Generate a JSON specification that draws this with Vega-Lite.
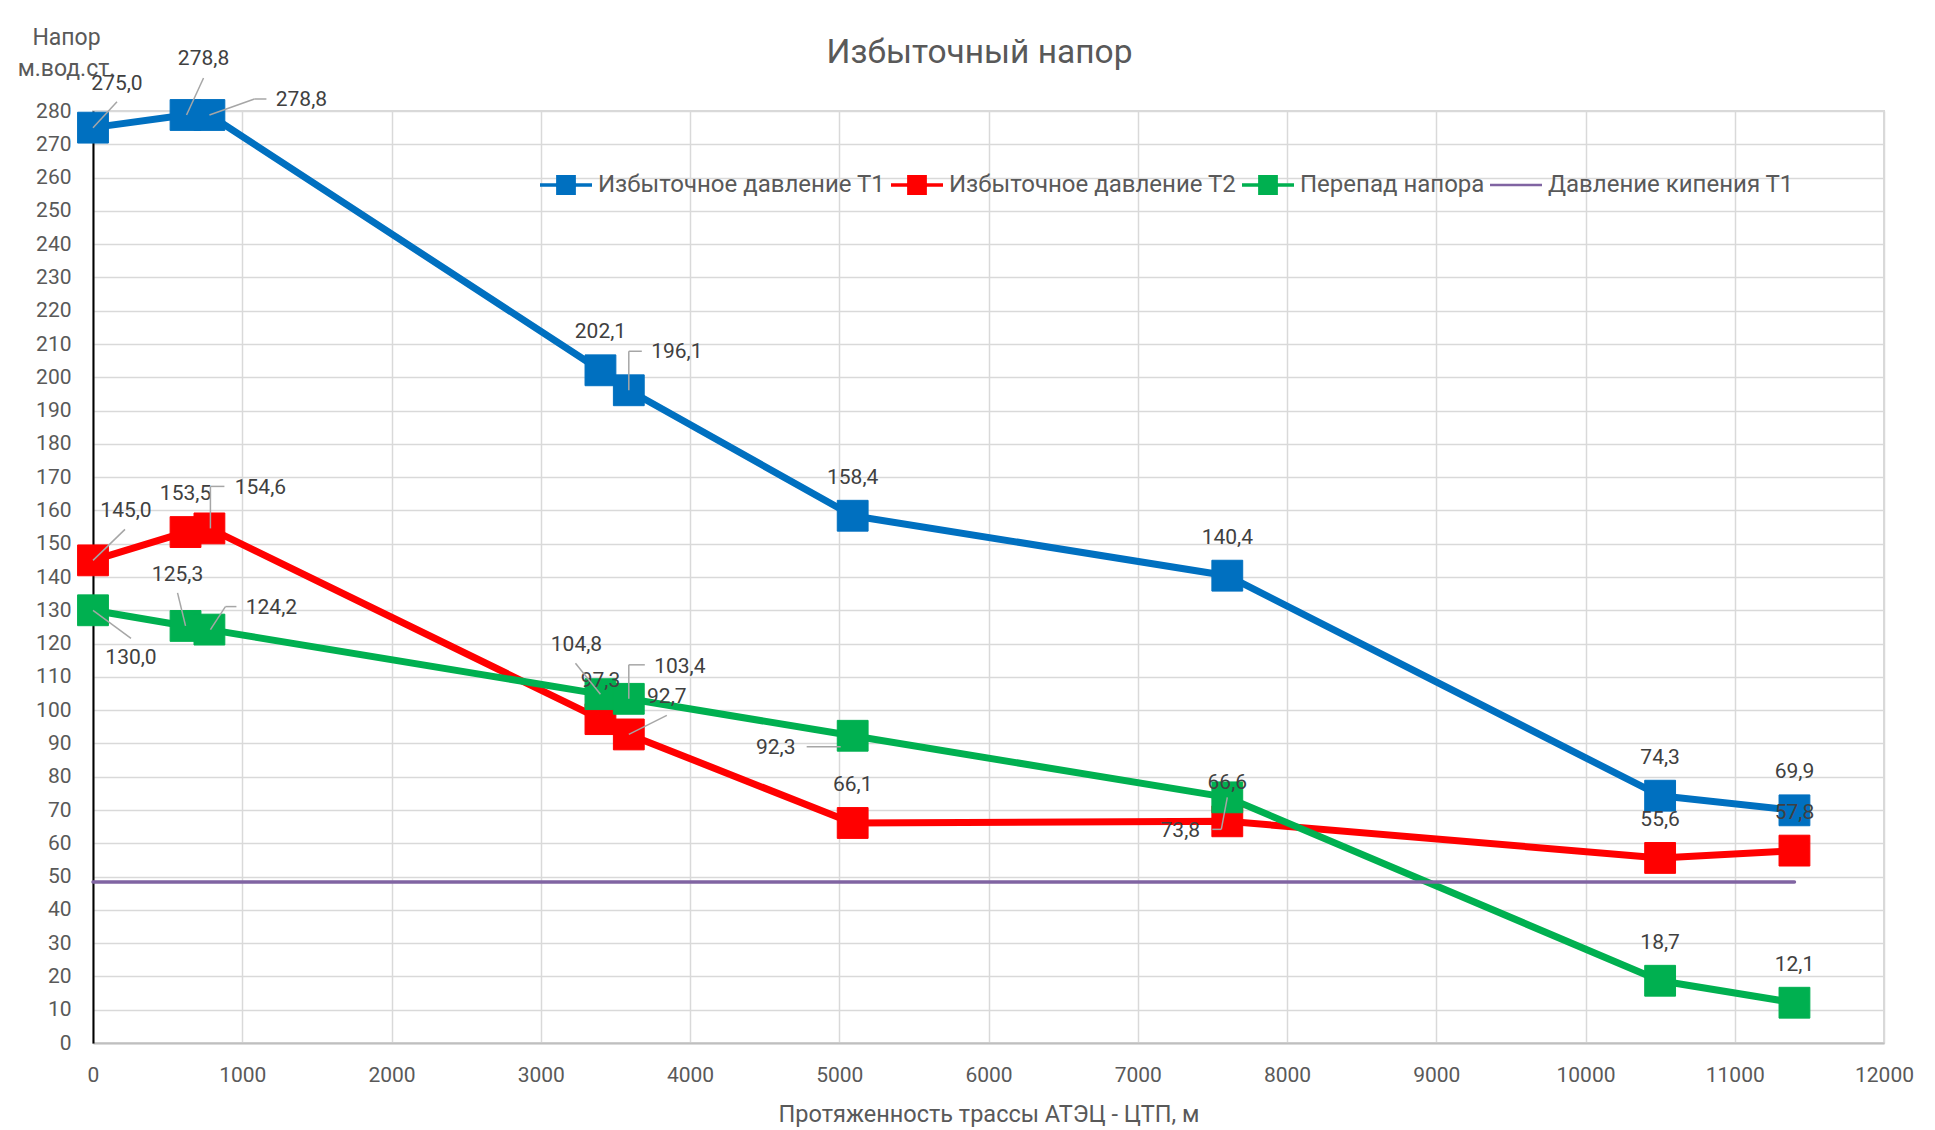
{
  "$schema": "https://vega.github.io/schema/vega-lite/v6.json",
  "width": 1791,
  "height": 932,
  "autosize": "none",
  "padding": {"left": 93, "top": 111, "right": 51, "bottom": 87},
  "background": "white",
  "title": {"text": "Избыточный напор", "fontSize": 33.5, "color": "#595959", "fontWeight": "normal", "font": "Roboto", "anchor": "middle", "offset": -44, "dx": -9},
  "config": {
    "font": "Roboto",
    "view": {"stroke": "#D9D9D9", "strokeWidth": 2},
    "locale": {"number": {"decimal": ",", "thousands": "", "grouping": [3], "currency": ["", ""]}},
    "axis": {"labelColor": "#595959", "labelFontSize": 21, "titleColor": "#595959", "titleFontSize": 23.5, "titleFontWeight": "normal", "gridColor": "#D9D9D9", "gridWidth": 1.5, "ticks": false, "labelFont": "Roboto", "titleFont": "Roboto"}
  },
  "data": {"values": [
    {"s": "Избыточное давление Т1", "x": 0, "y": 275.0},
    {"s": "Избыточное давление Т1", "x": 620, "y": 278.8},
    {"s": "Избыточное давление Т1", "x": 780, "y": 278.8},
    {"s": "Избыточное давление Т1", "x": 3400, "y": 202.1},
    {"s": "Избыточное давление Т1", "x": 3590, "y": 196.1},
    {"s": "Избыточное давление Т1", "x": 5090, "y": 158.4},
    {"s": "Избыточное давление Т1", "x": 7600, "y": 140.4},
    {"s": "Избыточное давление Т1", "x": 10500, "y": 74.3},
    {"s": "Избыточное давление Т1", "x": 11400, "y": 69.9},
    {"s": "Избыточное давление Т2", "x": 0, "y": 145.0},
    {"s": "Избыточное давление Т2", "x": 620, "y": 153.5},
    {"s": "Избыточное давление Т2", "x": 780, "y": 154.6},
    {"s": "Избыточное давление Т2", "x": 3400, "y": 97.3},
    {"s": "Избыточное давление Т2", "x": 3590, "y": 92.7},
    {"s": "Избыточное давление Т2", "x": 5090, "y": 66.1},
    {"s": "Избыточное давление Т2", "x": 7600, "y": 66.6},
    {"s": "Избыточное давление Т2", "x": 10500, "y": 55.6},
    {"s": "Избыточное давление Т2", "x": 11400, "y": 57.8},
    {"s": "Перепад напора", "x": 0, "y": 130.0},
    {"s": "Перепад напора", "x": 620, "y": 125.3},
    {"s": "Перепад напора", "x": 780, "y": 124.2},
    {"s": "Перепад напора", "x": 3400, "y": 104.8},
    {"s": "Перепад напора", "x": 3590, "y": 103.4},
    {"s": "Перепад напора", "x": 5090, "y": 92.3},
    {"s": "Перепад напора", "x": 7600, "y": 73.8},
    {"s": "Перепад напора", "x": 10500, "y": 18.7},
    {"s": "Перепад напора", "x": 11400, "y": 12.1},
    {"s": "Давление кипения Т1", "x": 0, "y": 48.4},
    {"s": "Давление кипения Т1", "x": 11400, "y": 48.4}
  ]},
  "encoding": {
    "x": {"field": "x", "type": "quantitative", "scale": {"domain": [0, 12000], "nice": false, "zero": false},
      "axis": {"tickCount": 12, "format": "d", "grid": true, "domainColor": "#BFBFBF", "domainWidth": 2, "labelPadding": 21, "titlePadding": 17, "labelFlush": false, "labelOverlap": false, "title": "Протяженность трассы АТЭЦ - ЦТП, м"}},
    "y": {"field": "y", "type": "quantitative", "scale": {"domain": [0, 280], "nice": false},
      "axis": {"tickCount": 28, "format": "d", "grid": true, "domainColor": "#000000", "domainWidth": 2, "labelPadding": 22, "labelOverlap": false, "title": ["Напор", "м.вод.ст."], "titleAngle": 0, "titleX": -27, "titleY": -67, "titleAlign": "center", "titleBaseline": "alphabetic", "titleLineHeight": 31, "titleFontSize": 23}}
  },
  "layer": [
    {
      "transform": [{"filter": "datum.s !== 'Давление кипения Т1'"}],
      "mark": {"type": "line", "strokeWidth": 7, "strokeJoin": "round", "strokeCap": "round"},
      "encoding": {
        "color": {"field": "s", "type": "nominal",
          "scale": {"domain": ["Избыточное давление Т1", "Избыточное давление Т2", "Перепад напора", "Давление кипения Т1"], "range": ["#0070C0", "#FF0000", "#00B050", "#8064A2"]},
          "legend": {"orient": "none", "legendX": 447, "legendY": 48, "direction": "horizontal", "columns": 4, "title": null, "padding": 0,
            "labelFontSize": 24, "labelColor": "#595959", "labelFont": "Roboto", "labelLimit": 0, "labelOffset": 6, "columnPadding": 5, "symbolSize": 2704, "symbolStrokeWidth": 0,
            "encode": {"symbols": {"update": {
              "shape": {"signal": "datum.value === 'Давление кипения Т1' ? 'M-1,-0.05H1V0.05H-1Z' : 'M-1,-0.07H1V0.07H-1Z M-0.38,-0.38H0.38V0.38H-0.38Z'"},
              "fill": {"scale": "color", "field": "value"},
              "stroke": {"value": "transparent"},
              "opacity": {"value": 1}}}}}}
      }
    },
    {
      "transform": [{"filter": "datum.s === 'Давление кипения Т1'"}],
      "mark": {"type": "line", "strokeWidth": 3.5, "strokeCap": "round"},
      "encoding": {"color": {"field": "s", "type": "nominal"}}
    },
    {
      "transform": [{"filter": "datum.s !== 'Давление кипения Т1'"}],
      "mark": {"type": "point", "shape": "square", "filled": true, "size": 950, "opacity": 1, "strokeWidth": 1, "strokeJoin": "round"},
      "encoding": {"color": {"field": "s", "type": "nominal"}, "stroke": {"field": "s", "type": "nominal", "scale": {"domain": ["Избыточное давление Т1", "Избыточное давление Т2", "Перепад напора", "Давление кипения Т1"], "range": ["#0070C0", "#FF0000", "#00B050", "#8064A2"]}, "legend": null}}
    },
    {
      "transform": [{"filter": "datum.s !== 'Давление кипения Т1' && !((datum.s === 'Избыточное давление Т1' && indexof([0,620,780,3590], datum.x) >= 0) || (datum.s === 'Избыточное давление Т2' && indexof([0,780,3590], datum.x) >= 0) || (datum.s === 'Перепад напора' && indexof([0,620,780,3400,3590,5090,7600], datum.x) >= 0))"}],
      "mark": {"type": "text", "fontSize": 21, "color": "#404040", "align": "center", "baseline": "middle", "dy": -38},
      "encoding": {"text": {"field": "y", "type": "quantitative", "format": ".1f"}}
    },
    {
      "transform": [{"filter": "datum.s === 'Избыточное давление Т1' && datum.x === 0"}],
      "layer": [
        {"mark": {"type": "rule", "stroke": "#A6A6A6", "strokeWidth": 1.5, "xOffset": 0, "yOffset": 0, "x2Offset": 24, "y2Offset": -26}, "encoding": {"x2": {"field": "x"}, "y2": {"field": "y"}}},
        {"mark": {"type": "text", "fontSize": 21, "color": "#404040", "align": "center", "baseline": "middle", "dx": 24, "dy": -44}, "encoding": {"text": {"field": "y", "type": "quantitative", "format": ".1f"}}}
      ]
    },
    {
      "transform": [{"filter": "datum.s === 'Избыточное давление Т1' && datum.x === 620"}],
      "layer": [
        {"mark": {"type": "rule", "stroke": "#A6A6A6", "strokeWidth": 1.5, "xOffset": 1, "yOffset": 0, "x2Offset": 18, "y2Offset": -37}, "encoding": {"x2": {"field": "x"}, "y2": {"field": "y"}}},
        {"mark": {"type": "text", "fontSize": 21, "color": "#404040", "align": "center", "baseline": "middle", "dx": 18, "dy": -56}, "encoding": {"text": {"field": "y", "type": "quantitative", "format": ".1f"}}}
      ]
    },
    {
      "transform": [{"filter": "datum.s === 'Избыточное давление Т1' && datum.x === 780"}],
      "layer": [
        {"mark": {"type": "rule", "stroke": "#A6A6A6", "strokeWidth": 1.5, "xOffset": 0, "yOffset": 0, "x2Offset": 45, "y2Offset": -16}, "encoding": {"x2": {"field": "x"}, "y2": {"field": "y"}}},
        {"mark": {"type": "rule", "stroke": "#A6A6A6", "strokeWidth": 1.5, "xOffset": 45, "yOffset": -16, "x2Offset": 57, "y2Offset": -16}, "encoding": {"x2": {"field": "x"}, "y2": {"field": "y"}}},
        {"mark": {"type": "text", "fontSize": 21, "color": "#404040", "align": "center", "baseline": "middle", "dx": 92, "dy": -15}, "encoding": {"text": {"field": "y", "type": "quantitative", "format": ".1f"}}}
      ]
    },
    {
      "transform": [{"filter": "datum.s === 'Избыточное давление Т1' && datum.x === 3590"}],
      "layer": [
        {"mark": {"type": "rule", "stroke": "#A6A6A6", "strokeWidth": 1.5, "xOffset": 0, "yOffset": 0, "x2Offset": 0, "y2Offset": -39}, "encoding": {"x2": {"field": "x"}, "y2": {"field": "y"}}},
        {"mark": {"type": "rule", "stroke": "#A6A6A6", "strokeWidth": 1.5, "xOffset": 0, "yOffset": -39, "x2Offset": 13, "y2Offset": -39}, "encoding": {"x2": {"field": "x"}, "y2": {"field": "y"}}},
        {"mark": {"type": "text", "fontSize": 21, "color": "#404040", "align": "center", "baseline": "middle", "dx": 48, "dy": -38}, "encoding": {"text": {"field": "y", "type": "quantitative", "format": ".1f"}}}
      ]
    },
    {
      "transform": [{"filter": "datum.s === 'Избыточное давление Т2' && datum.x === 0"}],
      "layer": [
        {"mark": {"type": "rule", "stroke": "#A6A6A6", "strokeWidth": 1.5, "xOffset": 0, "yOffset": 0, "x2Offset": 32, "y2Offset": -31}, "encoding": {"x2": {"field": "x"}, "y2": {"field": "y"}}},
        {"mark": {"type": "text", "fontSize": 21, "color": "#404040", "align": "center", "baseline": "middle", "dx": 33, "dy": -49}, "encoding": {"text": {"field": "y", "type": "quantitative", "format": ".1f"}}}
      ]
    },
    {
      "transform": [{"filter": "datum.s === 'Избыточное давление Т2' && datum.x === 780"}],
      "layer": [
        {"mark": {"type": "rule", "stroke": "#A6A6A6", "strokeWidth": 1.5, "xOffset": 1, "yOffset": 0, "x2Offset": 1, "y2Offset": -42}, "encoding": {"x2": {"field": "x"}, "y2": {"field": "y"}}},
        {"mark": {"type": "rule", "stroke": "#A6A6A6", "strokeWidth": 1.5, "xOffset": 1, "yOffset": -42, "x2Offset": 15, "y2Offset": -42}, "encoding": {"x2": {"field": "x"}, "y2": {"field": "y"}}},
        {"mark": {"type": "text", "fontSize": 21, "color": "#404040", "align": "center", "baseline": "middle", "dx": 51, "dy": -40}, "encoding": {"text": {"field": "y", "type": "quantitative", "format": ".1f"}}}
      ]
    },
    {
      "transform": [{"filter": "datum.s === 'Избыточное давление Т2' && datum.x === 3590"}],
      "layer": [
        {"mark": {"type": "rule", "stroke": "#A6A6A6", "strokeWidth": 1.5, "xOffset": 0, "yOffset": 0, "x2Offset": 38, "y2Offset": -19}, "encoding": {"x2": {"field": "x"}, "y2": {"field": "y"}}},
        {"mark": {"type": "text", "fontSize": 21, "color": "#404040", "align": "center", "baseline": "middle", "dx": 38, "dy": -37}, "encoding": {"text": {"field": "y", "type": "quantitative", "format": ".1f"}}}
      ]
    },
    {
      "transform": [{"filter": "datum.s === 'Перепад напора' && datum.x === 0"}],
      "layer": [
        {"mark": {"type": "rule", "stroke": "#A6A6A6", "strokeWidth": 1.5, "xOffset": 0, "yOffset": 0, "x2Offset": 38, "y2Offset": 28}, "encoding": {"x2": {"field": "x"}, "y2": {"field": "y"}}},
        {"mark": {"type": "text", "fontSize": 21, "color": "#404040", "align": "center", "baseline": "middle", "dx": 38, "dy": 48}, "encoding": {"text": {"field": "y", "type": "quantitative", "format": ".1f"}}}
      ]
    },
    {
      "transform": [{"filter": "datum.s === 'Перепад напора' && datum.x === 620"}],
      "layer": [
        {"mark": {"type": "rule", "stroke": "#A6A6A6", "strokeWidth": 1.5, "xOffset": 0, "yOffset": 0, "x2Offset": -8, "y2Offset": -33}, "encoding": {"x2": {"field": "x"}, "y2": {"field": "y"}}},
        {"mark": {"type": "text", "fontSize": 21, "color": "#404040", "align": "center", "baseline": "middle", "dx": -8, "dy": -51}, "encoding": {"text": {"field": "y", "type": "quantitative", "format": ".1f"}}}
      ]
    },
    {
      "transform": [{"filter": "datum.s === 'Перепад напора' && datum.x === 780"}],
      "layer": [
        {"mark": {"type": "rule", "stroke": "#A6A6A6", "strokeWidth": 1.5, "xOffset": 1, "yOffset": 0, "x2Offset": 16, "y2Offset": -23}, "encoding": {"x2": {"field": "x"}, "y2": {"field": "y"}}},
        {"mark": {"type": "rule", "stroke": "#A6A6A6", "strokeWidth": 1.5, "xOffset": 16, "yOffset": -23, "x2Offset": 27, "y2Offset": -23}, "encoding": {"x2": {"field": "x"}, "y2": {"field": "y"}}},
        {"mark": {"type": "text", "fontSize": 21, "color": "#404040", "align": "center", "baseline": "middle", "dx": 62, "dy": -22}, "encoding": {"text": {"field": "y", "type": "quantitative", "format": ".1f"}}}
      ]
    },
    {
      "transform": [{"filter": "datum.s === 'Перепад напора' && datum.x === 3400"}],
      "layer": [
        {"mark": {"type": "rule", "stroke": "#A6A6A6", "strokeWidth": 1.5, "xOffset": 0, "yOffset": 0, "x2Offset": -25, "y2Offset": -31}, "encoding": {"x2": {"field": "x"}, "y2": {"field": "y"}}},
        {"mark": {"type": "text", "fontSize": 21, "color": "#404040", "align": "center", "baseline": "middle", "dx": -24, "dy": -49}, "encoding": {"text": {"field": "y", "type": "quantitative", "format": ".1f"}}}
      ]
    },
    {
      "transform": [{"filter": "datum.s === 'Перепад напора' && datum.x === 3590"}],
      "layer": [
        {"mark": {"type": "rule", "stroke": "#A6A6A6", "strokeWidth": 1.5, "xOffset": 0, "yOffset": 0, "x2Offset": 0, "y2Offset": -34}, "encoding": {"x2": {"field": "x"}, "y2": {"field": "y"}}},
        {"mark": {"type": "rule", "stroke": "#A6A6A6", "strokeWidth": 1.5, "xOffset": 0, "yOffset": -34, "x2Offset": 16, "y2Offset": -34}, "encoding": {"x2": {"field": "x"}, "y2": {"field": "y"}}},
        {"mark": {"type": "text", "fontSize": 21, "color": "#404040", "align": "center", "baseline": "middle", "dx": 51, "dy": -32}, "encoding": {"text": {"field": "y", "type": "quantitative", "format": ".1f"}}}
      ]
    },
    {
      "transform": [{"filter": "datum.s === 'Перепад напора' && datum.x === 5090"}],
      "layer": [
        {"mark": {"type": "rule", "stroke": "#A6A6A6", "strokeWidth": 1.5, "xOffset": -46, "yOffset": 11, "x2Offset": -12, "y2Offset": 11}, "encoding": {"x2": {"field": "x"}, "y2": {"field": "y"}}},
        {"mark": {"type": "text", "fontSize": 21, "color": "#404040", "align": "center", "baseline": "middle", "dx": -77, "dy": 12}, "encoding": {"text": {"field": "y", "type": "quantitative", "format": ".1f"}}}
      ]
    },
    {
      "transform": [{"filter": "datum.s === 'Перепад напора' && datum.x === 7600"}],
      "layer": [
        {"mark": {"type": "rule", "stroke": "#A6A6A6", "strokeWidth": 1.5, "xOffset": 0, "yOffset": 0, "x2Offset": -6, "y2Offset": 32}, "encoding": {"x2": {"field": "x"}, "y2": {"field": "y"}}},
        {"mark": {"type": "rule", "stroke": "#A6A6A6", "strokeWidth": 1.5, "xOffset": -6, "yOffset": 32, "x2Offset": -15, "y2Offset": 32}, "encoding": {"x2": {"field": "x"}, "y2": {"field": "y"}}},
        {"mark": {"type": "text", "fontSize": 21, "color": "#404040", "align": "center", "baseline": "middle", "dx": -47, "dy": 34}, "encoding": {"text": {"field": "y", "type": "quantitative", "format": ".1f"}}}
      ]
    }
  ]
}
